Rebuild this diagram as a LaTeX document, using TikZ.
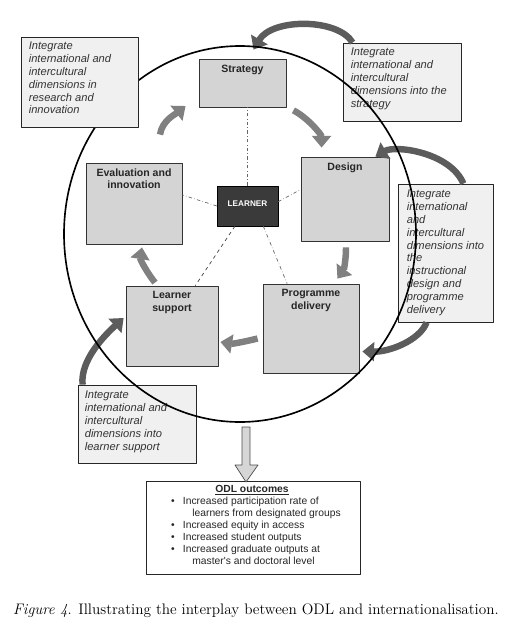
\documentclass[tikz,border=0pt]{standalone}
\usepackage{fontspec}
\newfontfamily\arialf{Liberation Sans}
\usetikzlibrary{arrows.meta,fit}
\definecolor{stagegray}{HTML}{D4D4D4}
\definecolor{notegray}{HTML}{F0F0F0}
\definecolor{turngray}{HTML}{808080}
\definecolor{feedgray}{HTML}{5C5C5C}
\definecolor{learnergray}{HTML}{3A3A3A}
\definecolor{arrowfill}{HTML}{D6D6D6}
\begin{document}
\begin{tikzpicture}[x=0.03cm,y=-0.03cm,line join=round,
	stage/.style={draw=black!80,fill=stagegray,inner sep=0pt,line width=0.7pt},
	stagename/.style={anchor=north,align=center,inner sep=2pt,font=\arialf\bfseries\fontsize{9}{10.5}\selectfont,text=black!85},
	note/.style={draw=black!85,fill=notegray,inner sep=0pt,line width=0.7pt},
	notetext/.style={anchor=north west,align=left,inner sep=0pt,font=\arialf\itshape\fontsize{9.5}{11}\selectfont,text=black!80},
	turn/.style={draw=turngray,line width=5.5pt,-{Triangle[length=10pt,width=16pt]}},
	feed/.style={draw=feedgray,line width=5.5pt,-{Triangle[length=10pt,width=16pt]}},
	spoke/.style={draw=black!60,dash dot,line width=0.6pt}]
	\useasboundingbox (0,0) rectangle (518,635);
	\node[stage, fit={(199,59) (286,107)}] (strategy) {};
	\node[stage, fit={(301,157) (389,241)}] (design) {};
	\node[stage, fit={(263,284) (359,373)}] (delivery) {};
	\node[stage, fit={(126,286) (218,366)}] (support) {};
	\node[stage, fit={(86,163) (182,244)}] (evaluation) {};
	\node[draw=black,fill=learnergray,inner sep=0pt,fit={(217,186) (278,226)},text=white,font=\arialf\bfseries\fontsize{7}{8}\selectfont] (learner) {LEARNER};
	\foreach \n/\t in {strategy/Strategy,design/Design,delivery/{Programme\\delivery},support/{Learner\\support},evaluation/{Evaluation and\\innovation}}
	\node[stagename] (\n name) at ([yshift=-3pt]\n.north) {\t};
	\draw[spoke] (learner.north) -- (learner.north |- strategy.south);
	\foreach \a/\b in {west/evaluation.10,8/design.168,-52/delivery.118}
	\draw[spoke] (learner.\a) -- (\b);
	\draw[draw=black!75,dashed,line width=0.6pt] (learner.238) -- (support.60);
	\draw[turn] ([shift={(7,3)}]strategy.south east) .. controls +(14,7) and +(0,-13) .. ([shift={(21,-9)}]design.north west);
	\draw[turn] ([shift={(1,6)}]design.south) .. controls +(0,14) and +(6,-8) .. ([shift={(-22,-5)}]delivery.north east);
	\draw[turn] ([shift={(-5,10)}]delivery.west) .. controls +(-12,3) and +(12,2) .. ([shift={(2,16)}]support.east);
	\draw[turn] ([shift={(-17,-3)}]support.north) .. controls +(-8,-10) and +(-2,12) .. ([shift={(8,3)}]evaluation.south);
	\draw[turn] ([shift={(26,-28)}]evaluation.north) .. controls +(2,-14) and +(-10,8) .. ([shift={(-13,23)}]strategy.west);
	\node[note, fit={(343,43) (461,121)}] (nstrategy) {};
	\node[note, fit={(398,184) (493,322)}] (ndesign) {};
	\node[note, fit={(78,385) (196,463)}] (nsupport) {};
	\node[notetext] (nstrategytext) at ([shift={(8,5)}]nstrategy.north west) {Integrate\\international and\\intercultural\\dimensions into the\\strategy};
	\node[notetext] (ndesigntext) at ([shift={(9,6)}]ndesign.north west) {Integrate\\international\\and\\intercultural\\dimensions into\\the\\instructional\\design and\\programme\\delivery};
	\node[notetext] (nsupporttext) at ([shift={(7,6)}]nsupport.north west) {Integrate\\international and\\intercultural\\dimensions into\\learner support};
	\draw[feed] ([shift={(10,0)}]nstrategy.north west) .. controls (338,18) and (272,18) .. ([shift={(11,-9)}]strategy.north);
	\draw[feed] ([shift={(-30,0)}]ndesign.north east) .. controls (450,152) and (395,145) .. ([shift={(-14,0)}]design.north east);
	\draw[feed] ([shift={(29,0)}]ndesign.south west) .. controls (420,340) and (390,352) .. ([shift={(3,23)}]delivery.east);
	\draw[feed] ([shift={(5,0)}]nsupport.north west) .. controls (80,360) and (105,335) .. ([shift={(-2,-8)}]support.west);
	\draw[line width=1.4pt] (240,234) ellipse [x radius=176, y radius=188];
	\node[note, fit={(21,37) (138,127)}] (nresearch) {};
	\node[notetext] (nresearchtext) at ([shift={(8,5)}]nresearch.north west) {Integrate\\international and\\intercultural\\dimensions in\\research and\\innovation};
	\node[draw=black!85,fill=white,inner sep=0pt,line width=0.7pt,fit={(146,481) (360,574)}] (outcomes) {};
	\draw[draw=black!70,fill=arrowfill,line width=0.6pt] (242,427) -- (250,427) -- (250,465) -- (258,465) -- (246,482) -- (235,465) -- (242,465) -- cycle;
	\node[font=\arialf\bfseries\fontsize{8.8}{10}\selectfont,text=black!85] (outtitle) at (252,490) {\underline{ODL outcomes}};
	\node[anchor=north west,align=left,inner sep=0pt,font=\arialf\fontsize{8.8}{10.2}\selectfont,text=black!85] (outlist) at (171,497) {%
		\makebox[10pt][l]{\textbullet}Increased participation rate of\\
		\hspace{18pt}learners from designated groups\\
		\makebox[10pt][l]{\textbullet}Increased equity in access\\
		\makebox[10pt][l]{\textbullet}Increased student outputs\\
		\makebox[10pt][l]{\textbullet}Increased graduate outputs at\\
		\hspace{18pt}master's and doctoral level};
	\node[font=\fontsize{13}{15}\selectfont] (caption) at (256,611) {\textit{Figure 4}. Illustrating the interplay between ODL and internationalisation.};
\end{tikzpicture}
\end{document}
